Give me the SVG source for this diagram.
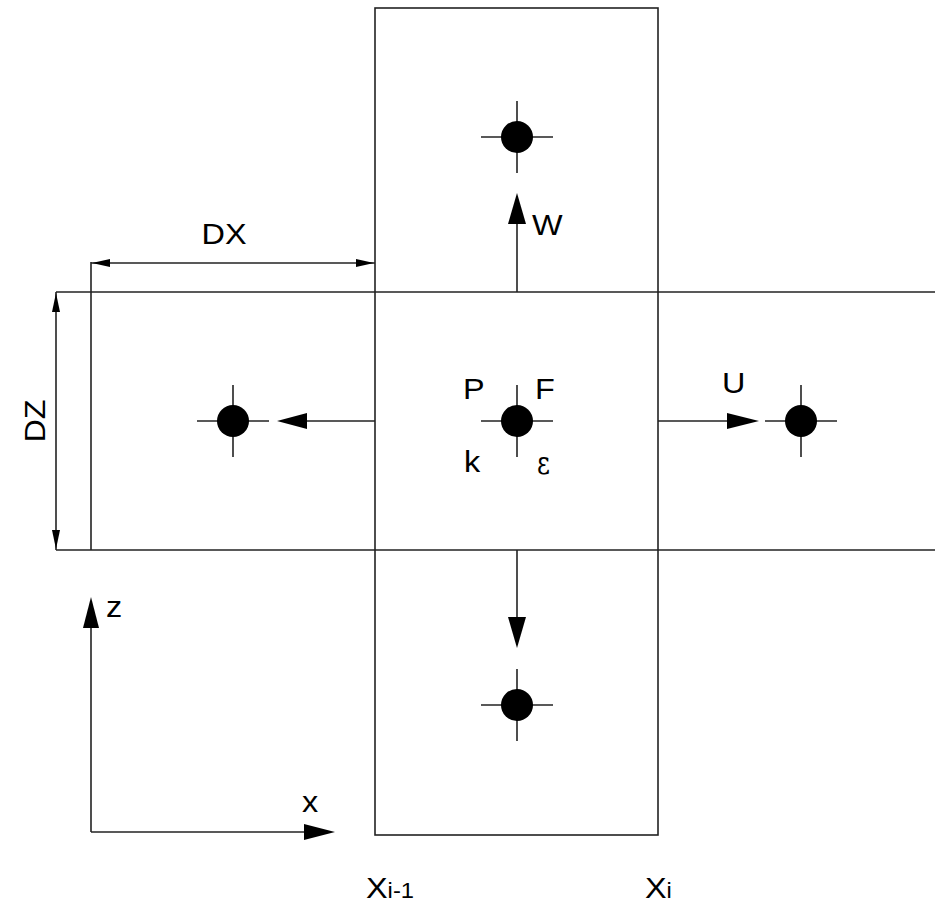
<svg xmlns="http://www.w3.org/2000/svg" width="935" height="903" viewBox="0 0 935 903">
<style>
.ln{stroke:#222;stroke-width:1.6;fill:none}
.ah{fill:#000;stroke:none}
.t{font-family:"Liberation Sans",Arial,sans-serif;fill:#000;font-size:30px}
.dot{fill:#000}
</style>
<defs>
<g id="node">
<line class="ln" x1="-36" y1="0" x2="36" y2="0"/>
<line class="ln" x1="0" y1="-36" x2="0" y2="36"/>
<circle class="dot" r="16"/>
</g>
</defs>
<rect width="935" height="903" fill="#fff"/>
<g id="grid">
<rect class="ln" x="375" y="8" width="283" height="827"/>
<line class="ln" x1="56" y1="292" x2="935" y2="292"/>
<line class="ln" x1="56" y1="550" x2="935" y2="550"/>
<line class="ln" x1="91" y1="262" x2="91" y2="550"/>
</g>
<g id="dimensions">
<line class="ln" x1="91" y1="263" x2="375" y2="263"/>
<polygon class="ah" points="92,263 110,259 110,267"/>
<polygon class="ah" points="374,263 356,259 356,267"/>
<line class="ln" x1="56" y1="292" x2="56" y2="550"/>
<polygon class="ah" points="56,293 52,312 60,312"/>
<polygon class="ah" points="56,549 52,530 60,530"/>
<text class="t" text-anchor="middle" transform="translate(224,244) scale(1.08,1)">DX</text>
<text class="t" text-anchor="middle" transform="translate(45,421) rotate(-90) scale(1.08,1)">DZ</text>
</g>
<g id="node-P"><use href="#node" x="517" y="421"/></g>
<g id="node-N"><use href="#node" x="517" y="137"/></g>
<g id="node-W"><use href="#node" x="233" y="421"/></g>
<g id="node-E"><use href="#node" x="801" y="421"/></g>
<g id="node-S"><use href="#node" x="517" y="705"/></g>
<g id="connectors">
<line class="ln" x1="375" y1="421" x2="306" y2="421"/>
<polygon class="ah" points="277,421 307,413 307,429"/>
<line class="ln" x1="658" y1="421" x2="728" y2="421"/>
<polygon class="ah" points="759,421 727,413 727,429"/>
<line class="ln" x1="517" y1="292" x2="517" y2="223"/>
<polygon class="ah" points="517,193 508,224 526,224"/>
<line class="ln" x1="517" y1="550" x2="517" y2="618"/>
<polygon class="ah" points="517,648 508,617 526,617"/>
<line class="ln" x1="91" y1="832" x2="91" y2="627"/>
<polygon class="ah" points="91,597 83,628 99,628"/>
<line class="ln" x1="91" y1="832" x2="305" y2="832"/>
<polygon class="ah" points="335,832 304,824 304,840"/>
</g>
<g id="labels">
<text class="t" transform="translate(532,235) scale(1.08,1)">W</text>
<text class="t" transform="translate(463,399) scale(1.08,1)">P</text>
<text class="t" transform="translate(535,399) scale(1.08,1)">F</text>
<text class="t" transform="translate(464,472) scale(1.08,1)">k</text>
<text font-size="32" font-family="'DejaVu Serif','Liberation Serif',serif" font-weight="300" fill="#000" transform="translate(537,474) scale(0.78,1)">ε</text>
<text class="t" transform="translate(722,393) scale(1.08,1)">U</text>
<text class="t" transform="translate(106,617) scale(1.08,1)">z</text>
<text class="t" transform="translate(302,812) scale(1.08,1)">x</text>
<text class="t" transform="translate(366,898) scale(1.08,1)">X<tspan font-size="22">i-1</tspan></text>
<text class="t" transform="translate(645,898) scale(1.08,1)">X<tspan font-size="22">i</tspan></text>
</g>
</svg>
